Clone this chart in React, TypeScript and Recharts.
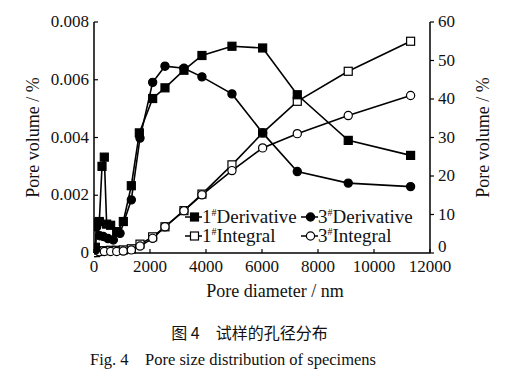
import { LineChart, Line, XAxis, YAxis } from "recharts";

const xTicks = [0, 2000, 4000, 6000, 8000, 10000, 12000];
const leftTicks = [0, 0.002, 0.004, 0.006, 0.008];
const rightTicks = [0, 10, 20, 30, 40, 50, 60];

// 1# derivative (left axis)
const deriv1X = [50, 90, 190, 286, 368, 452, 595, 810, 1047, 1333, 1619, 2095, 2535, 3213, 3855, 4927, 6023, 7260, 9080, 11307];
const deriv1Y = [0.0002, 0.00105, 0.00109, 0.003, 0.00332, 0.001, 0.00096, 0.00074, 0.00109, 0.00233, 0.00416, 0.00535, 0.00572, 0.00633, 0.00684, 0.00716, 0.0071, 0.00548, 0.0039, 0.00338];

// 3# derivative (left axis)
const deriv3X = [50, 95, 200, 333, 500, 690, 930, 1333, 1642, 2095, 2535, 3213, 3855, 4927, 6023, 7260, 9080, 11307];
const deriv3Y = [0.0001, 0.0009, 0.0006, 0.00057, 0.0005, 0.00045, 0.00068, 0.00184, 0.00398, 0.00591, 0.00647, 0.0064, 0.0061, 0.00551, 0.00416, 0.00282, 0.00242, 0.0023];

// integrals (right axis, %)
const integX = [50, 190, 368, 595, 810, 1047, 1333, 1642, 2095, 2535, 3213, 3855, 4927, 6023, 7260, 9080, 11307];
const integ1Y = [0.1, 0.4, 0.6, 0.7, 0.7, 0.8, 1.1, 2.3, 4.2, 6.8, 11.0, 15.3, 22.9, 31.2, 39.4, 47.2, 55.0];
const integ3Y = [0.1, 0.3, 0.4, 0.4, 0.4, 0.5, 0.8, 1.8, 3.8, 6.8, 11.0, 15.1, 21.4, 27.3, 31.0, 35.7, 40.9];

const zip = (xs: number[], ys: number[]) => xs.map((x, i) => ({ x, y: ys[i] }));

const d1 = zip(deriv1X, deriv1Y);
const d3 = zip(deriv3X, deriv3Y);
const i1 = zip(integX, integ1Y);
const i3 = zip(integX, integ3Y);

const FONT = "Liberation Serif";
const txt = { fontFamily: FONT, fill: "#111" };

function square(fill: string) {
  return (p: any) => {
    if (p.cx == null || p.cy == null) return <g key={p.key} />;
    return <rect key={p.key} x={p.cx - 4} y={p.cy - 4} width={8} height={8} fill={fill} stroke="#000" strokeWidth={1.2} />;
  };
}

function circle(fill: string) {
  return (p: any) => {
    if (p.cx == null || p.cy == null) return <g key={p.key} />;
    return <circle key={p.key} cx={p.cx} cy={p.cy} r={4.1} fill={fill} stroke="#000" strokeWidth={1.2} />;
  };
}

// tick renderers
const XTick = (p: any) => (
  <text x={p.x} y={p.y + 19} textAnchor="middle" fontFamily={FONT} fontSize={17} style={txt}>
    {p.payload.value}
  </text>
);
const LeftTick = (p: any) => (
  <text x={p.x - 5} y={p.y + 5} textAnchor="end" fontFamily={FONT} fontSize={17} style={txt}>
    {p.payload.value === 0 ? "0" : p.payload.value.toFixed(3)}
  </text>
);
const RightTick = (p: any) => (
  <text x={p.x + 2} y={p.y + (p.payload.value === 0 ? -1 : 5)} textAnchor="start" fontFamily={FONT} fontSize={17} style={txt}>
    {p.payload.value}
  </text>
);

const legendItems = [
  { n: "1", name: "Derivative", shape: "square", fill: "#000", left: 185, top: 217 },
  { n: "3", name: "Derivative", shape: "circle", fill: "#000", left: 301, top: 217 },
  { n: "1", name: "Integral", shape: "square", fill: "#fff", left: 185, top: 236 },
  { n: "3", name: "Integral", shape: "circle", fill: "#fff", left: 301, top: 236 },
];

function LegendBox() {
  return (
    <svg width={529} height={300} style={{ position: "absolute", left: 0, top: 0, pointerEvents: "none" }}>
      {legendItems.map((it, i) => (
        <g key={i}>
          <line x1={it.left} x2={it.left + 17} y1={it.top} y2={it.top} stroke="#000" strokeWidth={1.5} />
          {it.shape === "square" ? (
            <rect x={it.left + 5.5} y={it.top - 4} width={8} height={8} fill={it.fill} stroke="#000" strokeWidth={1.2} />
          ) : (
            <circle cx={it.left + 9.5} cy={it.top} r={4.1} fill={it.fill} stroke="#000" strokeWidth={1.2} />
          )}
          <text x={it.left + 17} y={it.top + 6} fontFamily={FONT} fontSize={19} style={txt}>
            {it.n}
            <tspan fontSize={10} dy={-7}>#</tspan>
            <tspan dy={7}>{it.name}</tspan>
          </text>
        </g>
      ))}
    </svg>
  );
}

export default function App() {
  return (
    <div style={{ position: "absolute", left: 0, top: 0, width: 529, height: 376, background: "#fff", overflow: "hidden" }}>
      <LineChart width={529} height={300} margin={{ top: 22, right: 0, bottom: 0, left: 0 }}>
        <XAxis
          xAxisId="top"
          orientation="top"
          type="number"
          dataKey="x"
          domain={[0, 12000]}
          tick={false}
          tickLine={false}
          height={0}
          axisLine={{ stroke: "#000", strokeWidth: 1.5 }}
        />
        <XAxis
          type="number"
          dataKey="x"
          domain={[0, 12000]}
          ticks={xTicks}
          allowDataOverflow
          height={47}
          tickSize={-4}
          tickMargin={4}
          tick={XTick}
          axisLine={{ stroke: "#000", strokeWidth: 1.5 }}
          tickLine={{ stroke: "#000", strokeWidth: 1.2 }}
          label={({ viewBox }: any) => (
            <text x={275} y={viewBox.y + 44} textAnchor="middle" fontFamily={FONT} fontSize={18} style={txt}>
              Pore diameter / nm
            </text>
          )}
        />
        <YAxis
          yAxisId="left"
          type="number"
          domain={[0, 0.008]}
          ticks={leftTicks}
          width={94}
          tickSize={-4}
          tickMargin={4}
          tick={LeftTick}
          axisLine={{ stroke: "#000", strokeWidth: 1.5 }}
          tickLine={{ stroke: "#000", strokeWidth: 1.2 }}
          label={({ viewBox }: any) => (
            <text
              x={33}
              y={viewBox.y + viewBox.height / 2}
              transform={`rotate(-90 33 ${viewBox.y + viewBox.height / 2})`}
              textAnchor="middle"
              dominantBaseline="central"
              fontFamily={FONT}
              fontSize={18}
              style={txt}
            >
              Pore volume / %
            </text>
          )}
        />
        <YAxis
          yAxisId="right"
          orientation="right"
          type="number"
          domain={[0, 60]}
          ticks={rightTicks}
          width={99}
          tickSize={4}
          tickMargin={2}
          tick={RightTick}
          axisLine={{ stroke: "#000", strokeWidth: 1.5 }}
          tickLine={{ stroke: "#000", strokeWidth: 1.2 }}
          label={({ viewBox }: any) => (
            <text
              x={483}
              y={viewBox.y + viewBox.height / 2}
              transform={`rotate(-90 483 ${viewBox.y + viewBox.height / 2})`}
              textAnchor="middle"
              dominantBaseline="central"
              fontFamily={FONT}
              fontSize={18}
              style={txt}
            >
              Pore volume / %
            </text>
          )}
        />
        <Line yAxisId="right" data={i1} dataKey="y" stroke="#000" strokeWidth={1.6} dot={square("#fff")} isAnimationActive={false} />
        <Line yAxisId="right" data={i3} dataKey="y" stroke="#000" strokeWidth={1.6} dot={circle("#fff")} isAnimationActive={false} />
        <Line yAxisId="left" data={d1} dataKey="y" stroke="#000" strokeWidth={1.6} dot={square("#000")} isAnimationActive={false} />
        <Line yAxisId="left" data={d3} dataKey="y" stroke="#000" strokeWidth={1.6} dot={circle("#000")} isAnimationActive={false} />
      </LineChart>
      <LegendBox />
      <div style={{ position: "absolute", left: 0, width: 529, top: 320, textAlign: "center", fontFamily: "'Noto Sans CJK SC', sans-serif", fontSize: 16, lineHeight: "24px", color: "#111", paddingRight: 30, boxSizing: "border-box" }}>
        图 4{"\u3000"}试样的孔径分布
      </div>
      <div style={{ position: "absolute", left: 90, top: 348, fontFamily: FONT, fontSize: 16.5, lineHeight: "24px", color: "#111", whiteSpace: "pre" }}>
        {"Fig. 4    Pore size distribution of specimens"}
      </div>
    </div>
  );
}
